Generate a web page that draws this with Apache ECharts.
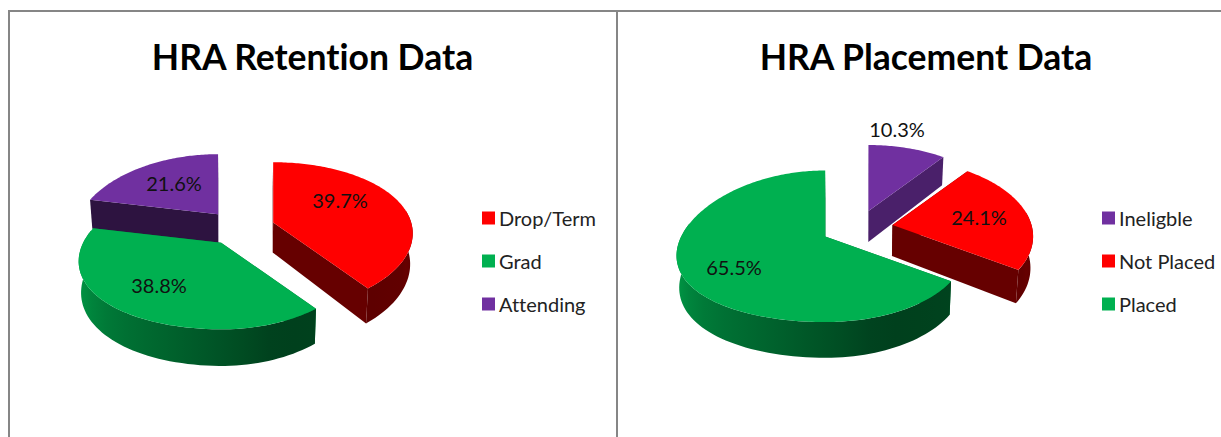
<!DOCTYPE html>
<html><head><meta charset="utf-8">
<style>html,body{margin:0;padding:0;background:#fff}#c{width:1221px;height:437px;font-variant-ligatures:none}#c text{font-variant-ligatures:none}</style>
<script src="https://cdn.jsdelivr.net/npm/echarts@6/dist/echarts.min.js"></script>
</head><body><div id="c"></div>
<script>
// Data
const retentionTitle = 'HRA Retention Data';
const retentionCategories = ['Drop/Term', 'Grad', 'Attending'];
const retentionValues = [39.7, 38.8, 21.6];
const placementTitle = 'HRA Placement Data';
const placementCategories = ['Ineligble', 'Not Placed', 'Placed'];
const placementValues = [10.3, 24.1, 65.5];

// Colours by legend name
const sliceColors = {'Drop/Term':'#FF0000','Grad':'#00B050','Attending':'#7030A0',
                     'Ineligble':'#7030A0','Not Placed':'#FF0000','Placed':'#00B050'};

// Layout of each pseudo-3D pie
const FONT = 'Lato, "Open Sans", sans-serif';
const retentionLayout = {cx:240, cy:228, rxLeft:138, rxRight:138, ry:71, explode:35, depth:30, perspLeft:0.25, perspRight:0.15, perspY:0.18,
  labels:[[340,200],[159,285],[174,183]]};
const placementLayout = {cx:857, cy:228, rxLeft:144, rxRight:139, ry:74.5, explode:36, depth:31, perspLeft:0.25, perspRight:0.15, perspY:0.13,
  labels:[[897,129],[979,217],[734,267]]};

const RAD = Math.PI/180;
function shadeColor(hex, f){
  const n = parseInt(hex.slice(1),16);
  const c = [n>>16&255, n>>8&255, n&255].map(v=>Math.round(v*f));
  return 'rgb('+c.join(',')+')';
}
// light falls off from the left side of the drum to the right
const rimStops = [[80,.40],[160,.36],[195,.55],[225,.70],[250,.86]];
function rimShade(t){
  for(let i=1;i<rimStops.length;i++){
    if(t<=rimStops[i][0]){
      const a=rimStops[i-1], b=rimStops[i];
      return a[1]+(b[1]-a[1])*(t-a[0])/(b[0]-a[0]);
    }
  }
  return rimStops[rimStops.length-1][1];
}
function makeSliceRenderer(layout, values, index){
  const total = values.reduce((s,v)=>s+v,0);
  let acc = 0;
  for(let i=0;i<index;i++) acc += values[i];
  const a0 = acc/total*360, a1 = (acc+values[index])/total*360, mid=(a0+a1)/2;
  const ox = layout.cx + layout.explode*Math.sin(mid*RAD);
  const oy = layout.cy - layout.explode*0.5*Math.cos(mid*RAD);
  const top = t=>{
    const s=Math.sin(t*RAD), c=Math.cos(t*RAD);
    const rx = s<0 ? layout.rxLeft : layout.rxRight;
    const px = s<0 ? layout.perspLeft : layout.perspRight;
    return [ox+rx*s/(1+px*c), oy-layout.ry*c/(1+layout.perspY*c)];
  };
  const low = t=>{
    const q = top(t);
    return [layout.cx+(q[0]-layout.cx)*0.985, q[1]+layout.depth/(1+layout.perspY*Math.cos(t*RAD))];
  };
  const apexTop=[ox,oy];
  const apexLow=[layout.cx+(ox-layout.cx)*0.985, oy+layout.depth];
  return function(params, api){
    const color = sliceColors[params.seriesName];
    const kids = [];
    const wall = (t,f)=>kids.push({type:'polygon',shape:{points:[apexTop,top(t),low(t),apexLow]},
      style:{fill:shadeColor(color,f)}});
    wall(a0,(a0-90+360)%360<180?.66:.4);
    wall(a1,(a1+90)%360<180?.66:.4);
    const from=Math.max(a0,80), to=Math.min(a1,280);
    if(to>from){
      const upper=[], lower=[], angles=[];
      for(let t=from;t<to;t+=2) angles.push(t);
      angles.push(to);
      angles.forEach(t=>{upper.push(top(t)); lower.unshift(low(t));});
      const poly=upper.concat(lower);
      const xs=poly.map(p=>p[0]);
      const minX=Math.min.apply(null,xs), maxX=Math.max.apply(null,xs);
      const stops=angles.filter((t,i)=>t<=250&&i%5===0).map(t=>({
        offset:Math.max(0,Math.min(1,(top(t)[0]-minX)/(maxX-minX))),
        color:shadeColor(color,rimShade(t))
      })).sort((a,b)=>a.offset-b.offset);
      kids.push({type:'polygon',shape:{points:poly},
        style:{fill:new echarts.graphic.LinearGradient(0,0,1,0,stops)}});
    }
    const pts=[apexTop];
    for(let t=a0;t<a1;t+=1) pts.push(top(t));
    pts.push(top(a1));
    kids.push({type:'polygon',shape:{points:pts},style:{fill:color}});
    const lab=layout.labels[index];
    kids.push({type:'text',style:{text:api.value(0).toFixed(1)+'%',x:lab[0],y:lab[1],
      fill:'#111',font:'20px '+FONT,align:'center',verticalAlign:'middle'}});
    return {type:'group',children:kids};
  };
}
function sliceSeries(layout, categories, values){
  // paint back to front
  const total = values.reduce((s,v)=>s+v,0);
  let acc=0;
  const rows = values.map((v,i)=>{const m=(acc+v/2)/total*360; acc+=v; return {i,depthKey:Math.cos(m*RAD)};});
  rows.sort((a,b)=>b.depthKey-a.depthKey);
  return rows.map(r=>({
    type:'custom', name:categories[r.i], coordinateSystem:'none',
    renderItem:makeSliceRenderer(layout,values,r.i),
    itemStyle:{color:sliceColors[categories[r.i]]},
    data:[[values[r.i]]], animation:false, silent:true
  }));
}
const legendBase = {orient:'vertical',itemWidth:13,itemHeight:13,itemGap:23,icon:'rect',selectedMode:false,
  textStyle:{fontFamily:FONT,fontSize:20,color:'#222',padding:[0,0,0,-1]}};
const titleBase = {textAlign:'center',textStyle:{fontFamily:FONT,fontWeight:'bold',fontSize:35.5,color:'#000'}};
const borderColor='#868686';
const chart = echarts.init(document.getElementById('c'),null,{renderer:'svg'});
chart.setOption({
  animation:false,
  backgroundColor:'#fff',
  title:[
    Object.assign({text:retentionTitle,left:307.5,top:33},titleBase),
    Object.assign({text:placementTitle,left:921,top:33},titleBase)
  ],
  legend:[
    Object.assign({data:retentionCategories,left:477,top:203},legendBase),
    Object.assign({data:placementCategories,left:1097,top:203},legendBase)
  ],
  graphic:[
    {type:'rect',shape:{x:8,y:10,width:1213,height:2},style:{fill:borderColor}},
    {type:'rect',shape:{x:8,y:10,width:2,height:427},style:{fill:borderColor}},
    {type:'rect',shape:{x:616,y:10,width:2,height:427},style:{fill:borderColor}}
  ],
  series:[].concat(
    sliceSeries(retentionLayout,retentionCategories,retentionValues),
    sliceSeries(placementLayout,placementCategories,placementValues))
});
</script></body></html>
